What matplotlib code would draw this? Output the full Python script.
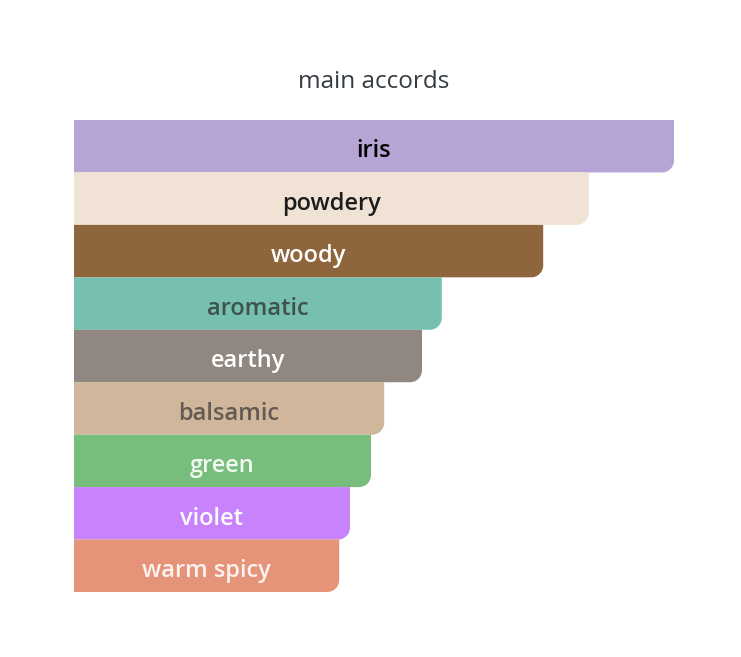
import matplotlib
matplotlib.use("Agg")
import matplotlib.pyplot as plt
from matplotlib.path import Path
from matplotlib.patches import PathPatch
import numpy as np

accords = ["iris", "powdery", "woody", "aromatic", "earthy", "balsamic", "green", "violet", "warm spicy"]
values = [100, 85.8, 78.2, 61.3, 58.0, 51.7, 49.5, 46.0, 44.2]
bar_colors = ["#B6A4D5", "#F0E2D4", "#8F653E", "#77C0AF", "#908880", "#D0B79B", "#77BD7C", "#C882FC", "#E5947A"]
text_colors = ["#000000", "#1c1c1c", "#ffffff", "#3f524d", "#ffffff", "#625a53", "#f2faf2", "#ffffff", "#fbf3ef"]
title = "main accords"

W, H = 741, 657
fig = plt.figure(figsize=(W / 100, H / 100), dpi=100)
left_px, right_px, top_px, bot_px = 74, 674, 120, 592
ax = fig.add_axes([left_px / W, 1 - bot_px / H, (right_px - left_px) / W, (bot_px - top_px) / H])
n = len(accords)
xmax = 100.0
ax.set_xlim(0, xmax)
ax.set_ylim(n, 0)
ax.axis("off")

ux = xmax / (right_px - left_px)      # data x per pixel
uy = n / (bot_px - top_px)            # data y per pixel
r_px = 12
rx, ry = r_px * ux, r_px * uy
k = 0.5523

for i, (name, v, c, tc) in enumerate(zip(accords, values, bar_colors, text_colors)):
    y0, y1 = i, i + 1  # y increases downward (inverted axis)
    verts = [
        (0, y0), (v, y0), (v, y1 - ry),
        (v, y1 - ry + k * ry), (v - rx + k * rx, y1), (v - rx, y1),
        (0, y1), (0, y0),
    ]
    codes = [Path.MOVETO, Path.LINETO, Path.LINETO,
             Path.CURVE4, Path.CURVE4, Path.CURVE4,
             Path.LINETO, Path.CLOSEPOLY]
    ax.add_patch(PathPatch(Path(verts, codes), facecolor=c, edgecolor="none", lw=0))
    ax.text(v / 2, i + 0.6, name, ha="center", va="center", color=tc,
            fontsize=17, fontfamily="Open Sans", fontweight="semibold")

fig.text(374 / W, 1 - 82 / H, title, ha="center", va="center", color="#333a40",
         fontsize=17.5, fontfamily="Open Sans")

fig.savefig("out.png", dpi=100, facecolor="white")
